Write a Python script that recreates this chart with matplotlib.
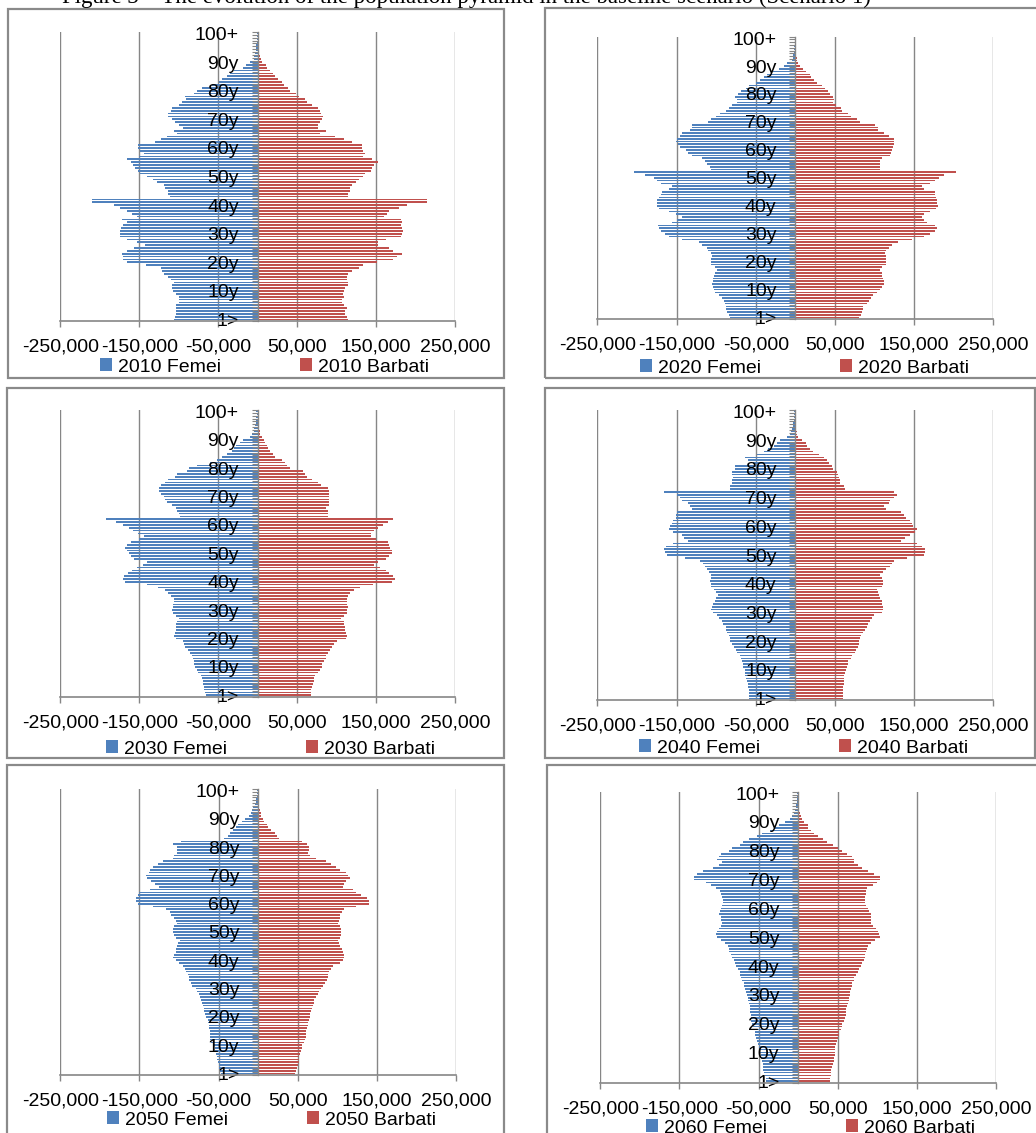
import matplotlib
matplotlib.use("Agg")
import matplotlib.pyplot as plt
from matplotlib.patches import Rectangle

plt.rcParams['font.family'] = ['Liberation Sans', 'DejaVu Sans']

W, H = 1036, 1133
BLUE = '#4F81BD'
RED = '#C0504D'
GREY = '#868686'

# ---------------- data (thousands of persons), index 0 = "1>" ... 100 = "100+"
ages = ["1>"] + [f"{a}y" for a in range(1, 100)] + ["100+"]
ytick_pos = [0, 10, 20, 30, 40, 50, 60, 70, 80, 90, 100]
ytick_labels = ["1>", "10y", "20y", "30y", "40y", "50y", "60y", "70y", "80y", "90y", "100+"]
xtick_pos = [-250, -150, -50, 50, 150, 250]
xtick_labels = ["-250,000", "-150,000", "-50,000", "50,000", "150,000", "250,000"]
years = [2010, 2020, 2030, 2040, 2050, 2060]

f2010 = [106, 105, 104, 104, 103, 104, 99, 100, 100, 103,
         107, 108, 108, 106, 110, 113, 119, 121, 123, 142,
         166, 170, 171, 172, 166, 157, 143, 153, 165, 174,
         174, 174, 173, 170, 165, 172, 153, 159, 165, 174,
         182, 210, 210, 111, 113, 113, 117, 119, 128, 132,
         140, 149, 152, 155, 158, 161, 166, 150, 144, 149,
         151, 151, 130, 123, 115, 102, 106, 94, 100, 105,
         108, 113, 113, 110, 108, 100, 96, 91, 92, 80,
         77, 70, 58, 49, 45, 39, 35, 30, 18, 15,
         10, 5, 4, 3, 2, 2, 1.5, 1, 1, 0.8,
         1]
m2010 = [114, 113, 111, 111, 113, 109, 107, 107, 109, 108,
         109, 111, 115, 115, 113, 113, 115, 120, 128, 134,
         151, 172, 177, 183, 172, 166, 153, 153, 162, 181,
         183, 184, 183, 181, 183, 181, 160, 164, 166, 179,
         189, 215, 215, 114, 115, 117, 117, 120, 124, 128,
         134, 136, 143, 145, 147, 153, 145, 134, 136, 134,
         132, 132, 120, 109, 98, 79, 86, 77, 77, 79,
         82, 83, 80, 79, 77, 69, 62, 60, 52, 48,
         41, 38, 34, 31, 26, 22, 19, 16, 12, 10,
         6, 4, 3, 2, 2, 1.5, 1, 1, 0.8, 0.5,
         0.6]
f2020 = [82, 84, 86, 87, 88, 89, 90, 93, 96, 101,
         103, 104, 105, 104, 104, 103, 102, 99, 101, 106,
         106, 106, 105, 107, 110, 112, 118, 122, 143, 160,
         164, 170, 172, 173, 156, 150, 143, 151, 160, 172,
         174, 175, 174, 172, 170, 168, 160, 156, 170, 175,
         179, 190, 204, 107, 108, 112, 114, 118, 130, 135,
         138, 145, 148, 151, 150, 145, 143, 133, 130, 131,
         110, 107, 100, 95, 88, 84, 80, 74, 74, 76,
         72, 69, 62, 59, 50, 44, 40, 36, 28, 21,
         14, 10, 4, 3, 2.5, 2, 1.5, 1.2, 1, 1,
         1]
m2020 = [81, 83, 84, 85, 86, 90, 93, 95, 98, 103,
         107, 110, 112, 112, 111, 110, 109, 107, 110, 114,
         114, 115, 114, 113, 114, 118, 122, 130, 147, 163,
         170, 176, 179, 176, 166, 162, 160, 162, 170, 178,
         180, 179, 179, 178, 177, 176, 162, 160, 170, 176,
         181, 188, 203, 107, 107, 107, 107, 110, 120, 121,
         122, 123, 124, 125, 124, 118, 112, 105, 104, 101,
         82, 78, 70, 66, 59, 58, 52, 48, 49, 48,
         44, 41, 38, 34, 28, 23, 20, 18, 13, 10,
         6, 4, 2.5, 2, 1.5, 1.2, 1, 0.8, 0.6, 0.5,
         0.6]
f2030 = [66, 67, 68, 68, 69, 69, 70, 72, 75, 77,
         79, 80, 81, 82, 83, 86, 88, 92, 93, 94,
         104, 106, 105, 104, 104, 103, 102, 100, 104, 107,
         108, 107, 107, 106, 106, 110, 113, 118, 126, 140,
         168, 170, 169, 164, 159, 153, 145, 140, 157, 160,
         163, 166, 168, 165, 161, 150, 144, 151, 158, 163,
         171, 180, 192, 98, 100, 102, 104, 109, 115, 117,
         119, 122, 125, 125, 123, 118, 113, 105, 102, 90,
         87, 77, 60, 52, 45, 39, 32, 30, 28, 22,
         18, 10, 7, 5, 4, 3, 2.5, 2, 1.5, 1.2,
         1.5]
m2030 = [67, 68, 68, 69, 70, 71, 72, 73, 76, 79,
         81, 82, 84, 86, 87, 89, 92, 94, 97, 101,
         112, 113, 112, 111, 111, 110, 109, 106, 110, 113,
         113, 114, 113, 113, 113, 115, 117, 122, 130, 146,
         170, 174, 172, 166, 163, 155, 147, 153, 162, 167,
         170, 170, 168, 166, 165, 150, 144, 143, 147, 153,
         159, 165, 171, 89, 89, 89, 86, 90, 91, 91,
         91, 90, 90, 89, 80, 76, 69, 63, 60, 57,
         41, 37, 35, 31, 22, 19, 16, 13, 12, 9,
         8, 5, 3, 2.5, 2, 1.5, 1.2, 1, 0.8, 0.6,
         0.6]
f2040 = [58, 58, 59, 59, 60, 60, 61, 62, 63, 63,
         64, 66, 66, 67, 69, 70, 73, 75, 78, 80,
         82, 83, 84, 86, 87, 88, 91, 93, 96, 99,
         104, 106, 105, 104, 101, 100, 98, 100, 103, 106,
         107, 108, 107, 106, 109, 111, 114, 117, 120, 139,
         162, 165, 166, 163, 154, 135, 140, 143, 154, 160,
         158, 156, 155, 151, 151, 150, 130, 133, 135, 143,
         146, 149, 166, 82, 82, 80, 80, 79, 80, 80,
         76, 76, 53, 60, 63, 48, 40, 34, 27, 23,
         19, 10, 7, 5, 4, 3, 2.5, 2, 1.5, 1.2,
         1.5]
m2040 = [60, 60, 60, 60, 60, 61, 61, 62, 62, 63,
         64, 65, 66, 67, 70, 72, 75, 77, 79, 80,
         81, 82, 83, 85, 88, 90, 92, 94, 97, 99,
         110, 111, 111, 110, 109, 107, 106, 104, 103, 110,
         111, 111, 110, 107, 111, 114, 119, 122, 124, 141,
         162, 164, 164, 160, 154, 133, 139, 145, 151, 154,
         149, 147, 145, 140, 137, 133, 114, 112, 118, 120,
         124, 129, 124, 63, 61, 57, 56, 55, 54, 53,
         48, 46, 42, 40, 36, 30, 22, 19, 15, 13,
         8, 4, 2.5, 1.8, 1.5, 1.2, 1, 0.8, 0.6, 0.5,
         0.5]
f2050 = [47, 48, 49, 50, 51, 52, 52, 53, 54, 55,
         57, 59, 61, 61, 61, 61, 62, 62, 63, 64,
         66, 67, 68, 69, 70, 71, 72, 74, 75, 77,
         78, 83, 85, 87, 88, 89, 91, 93, 95, 100,
         104, 108, 106, 104, 104, 103, 101, 99, 104, 106,
         108, 107, 106, 102, 104, 106, 110, 112, 116, 133,
         152, 154, 154, 152, 150, 137, 125, 130, 135, 140,
         142, 138, 137, 133, 127, 120, 108, 106, 103, 102,
         102, 108, 97, 43, 38, 35, 32, 28, 25, 20,
         16, 12, 9, 8, 6, 4, 3, 2.5, 2, 1.5,
         2]
m2050 = [47, 48, 49, 50, 51, 52, 52, 53, 54, 55,
         56, 58, 59, 60, 60, 61, 62, 63, 63, 64,
         65, 66, 67, 68, 69, 70, 71, 73, 75, 77,
         79, 82, 85, 87, 88, 88, 90, 92, 94, 104,
         107, 108, 108, 107, 106, 104, 102, 101, 103, 105,
         105, 105, 104, 101, 102, 103, 104, 106, 109, 124,
         140, 140, 137, 130, 124, 120, 107, 109, 111, 116,
         113, 111, 104, 98, 92, 86, 73, 66, 63, 64,
         64, 62, 56, 26, 24, 21, 16, 13, 11, 8,
         6, 4, 3, 2, 1.5, 1.2, 1, 0.8, 0.6, 0.5,
         0.6]
f2060 = [40, 41, 42, 43, 44, 44, 45, 46, 47, 47,
         48, 49, 50, 51, 52, 53, 54, 55, 56, 57,
         58, 59, 59, 60, 61, 61, 61, 62, 63, 64,
         65, 66, 67, 68, 69, 71, 72, 73, 74, 76,
         78, 80, 81, 83, 85, 87, 88, 89, 93, 97,
         102, 104, 103, 100, 98, 96, 97, 98, 100, 99,
         97, 96, 95, 95, 96, 98, 99, 104, 110, 116,
         132, 131, 128, 120, 108, 100, 96, 102, 100, 97,
         88, 84, 74, 70, 62, 52, 46, 36, 30, 24,
         17, 10, 8, 5, 4, 3, 2.5, 2, 1.5, 1.2,
         2]
m2060 = [40, 40, 41, 41, 42, 43, 44, 45, 45, 46,
         46, 47, 47, 48, 49, 50, 51, 52, 54, 55,
         56, 58, 59, 60, 60, 61, 62, 63, 64, 64,
         65, 66, 67, 68, 68, 70, 71, 73, 75, 77,
         79, 81, 83, 84, 85, 86, 87, 88, 92, 97,
         103, 102, 101, 99, 95, 92, 92, 92, 92, 90,
         88, 86, 85, 85, 85, 86, 86, 87, 94, 100,
         104, 103, 96, 88, 81, 75, 70, 70, 68, 62,
         56, 50, 44, 36, 32, 25, 20, 16, 12, 12,
         7, 5, 3, 2, 1.5, 1.2, 1, 0.8, 0.6, 0.5,
         0.6]

females = [f2010, f2020, f2030, f2040, f2050, f2060]
males = [m2010, m2020, m2030, m2040, m2050, m2060]

# ---------------- layout (pixels): plot area, frame box, legend anchor
plot_px = [(60.3, 455.0, 32.0, 321.0), (597.3, 993.3, 36.7, 319.0),
           (60.3, 455.0, 410.0, 696.7), (597.3, 993.3, 410.0, 700.0),
           (60.3, 456.0, 789.0, 1075.0), (600.3, 996.0, 791.7, 1082.7)]
box_px = [(8, 9, 504, 378), (545, 8, 1045, 378),
          (7, 388, 504, 757.7), (545, 388, 1035, 757.7),
          (7, 765, 504, 1145), (547, 765, 1045, 1145)]
legend_px = [(100, 367), (640, 368), (106, 749), (639, 748), (107, 1120), (646, 1128)]

fig = plt.figure(figsize=(W / 100, H / 100), dpi=100)
fig.patch.set_facecolor('white')

# title (mostly cut off by the top edge in the reference)
fig.text(62 / W, 1 - 2.5 / H,
         "Figure 3 \u2013 The evolution of the population pyramid in the baseline scenario (Scenario 1)",
         family=['Liberation Serif', 'DejaVu Serif'], fontsize=16.5, va='baseline', ha='left')

for i, year in enumerate(years):
    l, r, t, b = plot_px[i]
    bl, bt, br, bb = box_px[i]
    fig.add_artist(Rectangle((bl / W, 1 - bb / H), (br - bl) / W, (bb - bt) / H,
                             transform=fig.transFigure, fill=False,
                             ec='#8a8a8a', lw=1.6, zorder=0))
    ax = fig.add_axes([l / W, 1 - b / H, (r - l) / W, (b - t) / H])
    ax.set_facecolor('none')
    pos = list(range(len(ages)))
    fem = females[i]
    mal = males[i]
    b1 = ax.barh(pos, [-v for v in fem], height=0.6, color=BLUE, lw=0)
    b2 = ax.barh(pos, mal, height=0.6, color=RED, lw=0)
    for xv in xtick_pos:
        ax.axvline(xv, color=GREY, lw=1.0, zorder=0)
    ax.set_xlim(-250, 250)
    ax.set_ylim(-0.5, len(ages) - 0.5)
    for s in ('top', 'right'):
        ax.spines[s].set_visible(False)
    ax.spines['left'].set_position(('data', 0))
    ax.spines['left'].set_color(GREY)
    ax.spines['left'].set_linewidth(1.0)
    ax.spines['bottom'].set_color(GREY)
    ax.spines['bottom'].set_linewidth(1.2)
    ax.set_xticks(xtick_pos, xtick_labels)
    ax.set_yticks(ytick_pos, ytick_labels)
    ax.set_yticks([p - 0.5 for p in range(len(ages) + 1)], minor=True)
    ax.tick_params(axis='y', which='major', length=0, pad=13.5, labelsize=14)
    ax.tick_params(axis='y', which='minor', length=4.3, width=0.8, color=GREY, direction='out')
    ax.tick_params(axis='x', which='major', length=4.3, width=1, color=GREY, pad=8.2, labelsize=14)
    lx, ly = legend_px[i]
    fig.legend([b1, b2], [f"{year} Femei", f"{year} Barbati"], loc='center left',
               bbox_to_anchor=(lx / W, 1 - ly / H), bbox_transform=fig.transFigure,
               ncol=2, frameon=False, fontsize=14, handlelength=0.62, handleheight=0.62,
               handletextpad=0.3, columnspacing=4.05, borderpad=0, borderaxespad=0)

fig.savefig('out.png', dpi=100, facecolor='white')
